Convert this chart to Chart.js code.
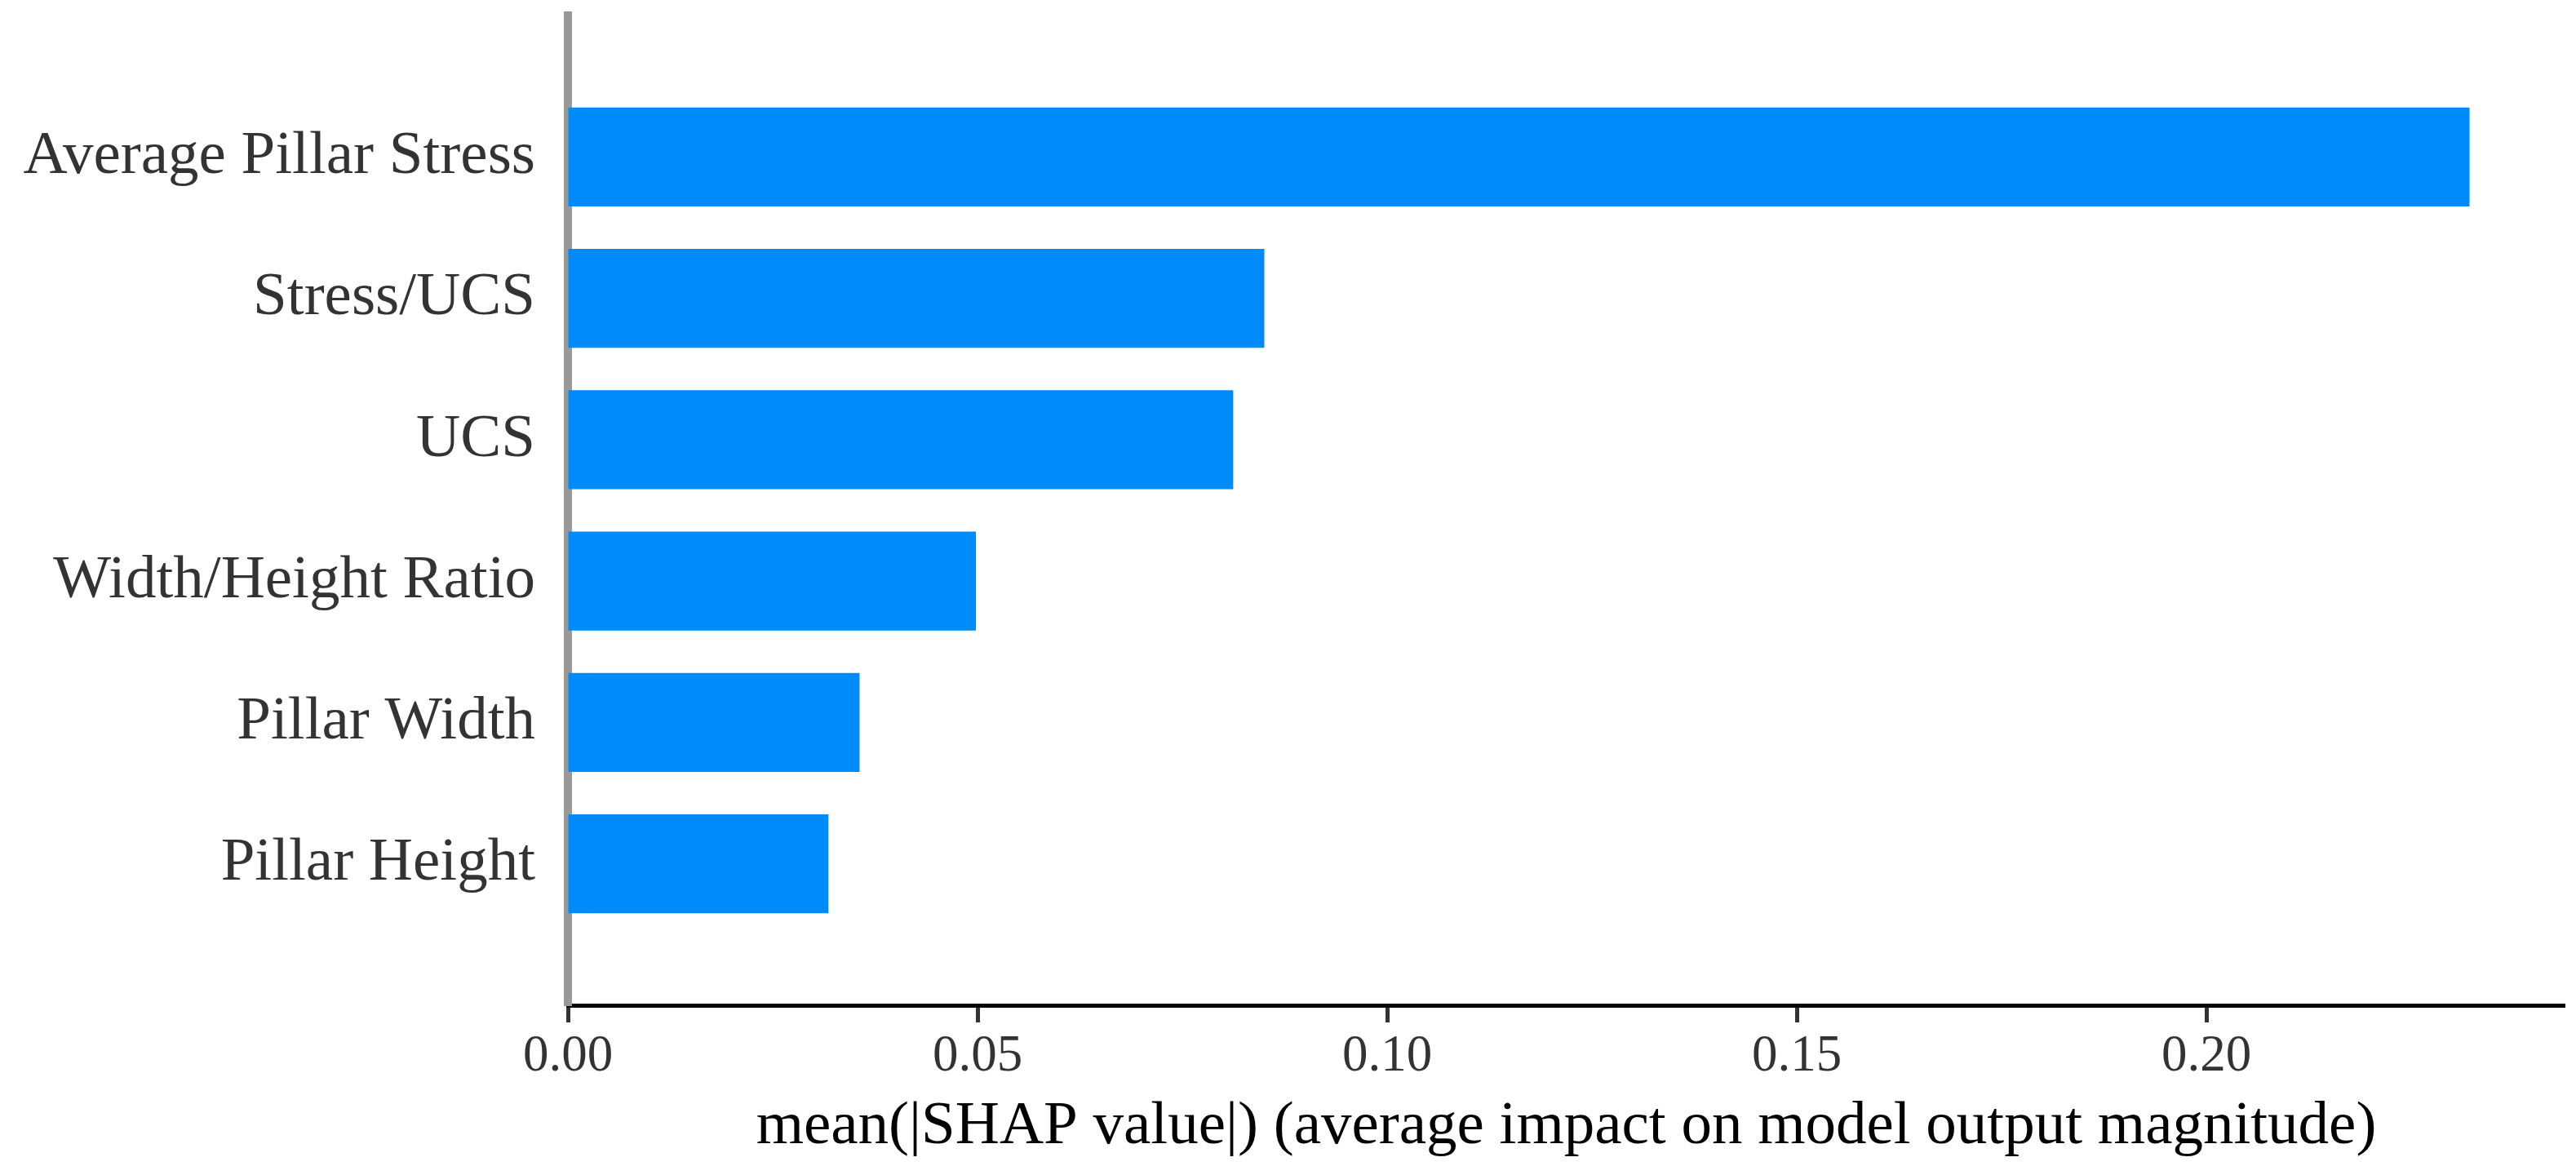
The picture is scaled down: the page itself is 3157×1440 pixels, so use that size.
<!DOCTYPE html>
<html>
<head>
<meta charset="utf-8">
<script src="https://cdn.jsdelivr.net/npm/chart.js@4.4.1/dist/chart.umd.min.js"></script>
<style>
  html, body { margin: 0; padding: 0; background: #ffffff; overflow: hidden; }
  #wrap { width: 3157px; height: 1440px; }
</style>
</head>
<body>
<div id="wrap"><canvas id="c" width="3157" height="1440"></canvas></div>
<script>
// ---- data ----
const features = [
  "Average Pillar Stress",
  "Stress/UCS",
  "UCS",
  "Width/Height Ratio",
  "Pillar Width",
  "Pillar Height"
];
const shapValues = [0.2321, 0.0850, 0.0812, 0.0498, 0.0356, 0.0318];
const xTickValues = [0.00, 0.05, 0.10, 0.15, 0.20];
const xAxisTitle = "mean(|SHAP value|) (average impact on model output magnitude)";

// one empty slot above and below, like the plot's y-limits (-1 .. n)
const yLabels = [""].concat(features, [""]);
const yData = [null].concat(shapValues, [null]);

const serif = "'Liberation Serif', 'Times New Roman', serif";

new Chart(document.getElementById('c'), {
  type: 'bar',
  data: {
    labels: yLabels,
    datasets: [{
      data: yData,
      backgroundColor: '#008bfb',
      borderWidth: 0,
      barPercentage: 0.7,
      categoryPercentage: 1.0
    }]
  },
  options: {
    indexAxis: 'y',
    responsive: false,
    devicePixelRatio: 1,
    animation: false,
    layout: { padding: { top: 19, right: 14, left: 0, bottom: 0 } },
    plugins: { legend: { display: false }, tooltip: { enabled: false } },
    scales: {
      x: {
        type: 'linear',
        min: 0,
        max: 0.2437,
        afterBuildTicks: (scale) => { scale.ticks = xTickValues.map(v => ({ value: v })); },
        afterFit: (scale) => { scale.height = 208; scale.paddingLeft = 0; scale.paddingRight = 0; },
        ticks: {
          color: '#333333',
          font: { family: serif, size: 63 },
          padding: 5,
          maxRotation: 0,
          callback: (v) => Number(v).toFixed(2)
        },
        grid: {
          display: true,
          drawOnChartArea: false,
          drawTicks: true,
          tickLength: 21,
          tickWidth: 5,
          tickColor: '#333333',
          color: '#333333'
        },
        border: { display: true, color: '#000000', width: 5 },
        title: {
          display: true,
          text: xAxisTitle,
          color: '#000000',
          font: { family: serif, size: 75 },
          padding: { top: 0, bottom: 14 }
        }
      },
      y: {
        type: 'category',
        offset: false,
        afterFit: (scale) => { scale.width = 696; scale.paddingTop = 0; scale.paddingBottom = 0; },
        ticks: {
          color: '#333333',
          font: { family: serif, size: 75 },
          padding: 40,
          autoSkip: false
        },
        grid: { display: false, drawTicks: false },
        border: { display: true, color: '#999999', width: 10 }
      }
    }
  }
});
</script>
</body>
</html>
